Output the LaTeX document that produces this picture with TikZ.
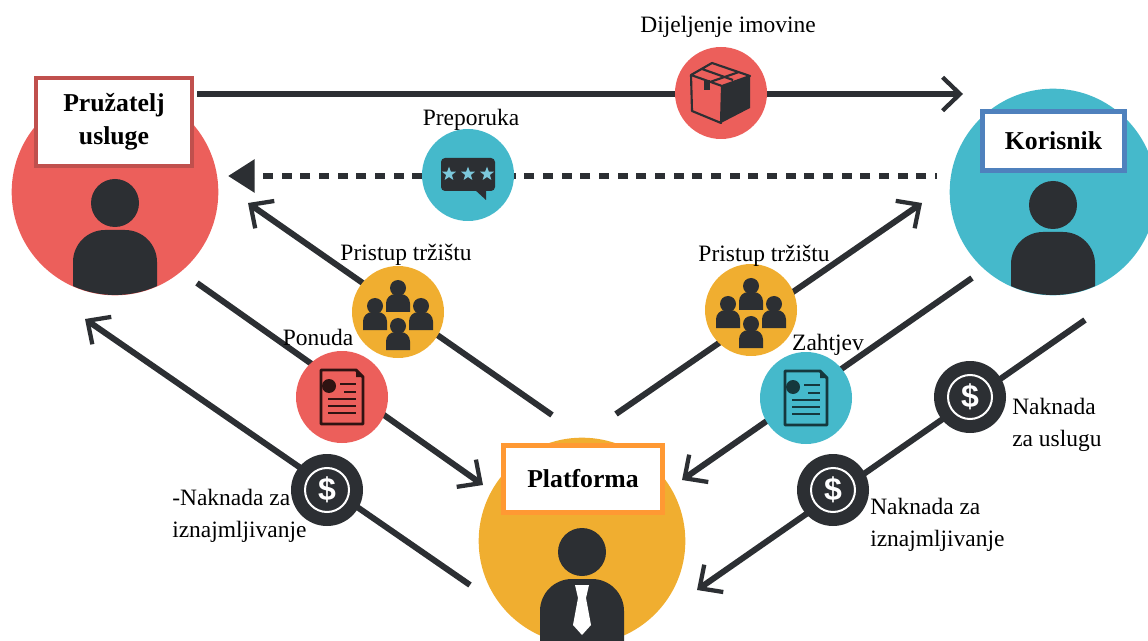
\documentclass[tikz,border=0pt]{standalone}
\usepackage{fontspec}
\setmainfont{Liberation Serif}
\newfontfamily\signfont{Liberation Sans}
\usetikzlibrary{arrows.meta,positioning,shapes.geometric}
\definecolor{redc}{HTML}{EC5F5B}
\definecolor{tealc}{HTML}{45B9CB}
\definecolor{yellowc}{HTML}{F0AE30}
\definecolor{darkc}{HTML}{2C2F33}
\definecolor{starc}{HTML}{7CC8DC}
\definecolor{boxred}{HTML}{C0504D}
\definecolor{boxblue}{HTML}{4F81BD}
\definecolor{boxorange}{HTML}{FF9933}
\begin{document}
\begin{tikzpicture}[x=0.75pt,y=-0.75pt,>={Straight Barb[length=13pt,width=25pt,line width=3.2pt]},
		bigdisc/.style={circle,minimum size=155pt,inner sep=0pt},
		hub/.style={circle,minimum size=69pt,inner sep=0pt},
		coin/.style={circle,fill=darkc,text=white,minimum size=54pt,inner sep=0pt,font=\signfont\bfseries\fontsize{24}{24}\selectfont},
		namebox/.style={rectangle,fill=white,line width=3.6pt,inner sep=0pt,align=center,font=\bfseries\fontsize{19.3}{25}\selectfont},
		lbl/.style={inner sep=0pt,align=left,font=\fontsize{17.6}{24.5}\selectfont},
		link/.style={draw=darkc,line width=4.5pt},
		person/.pic={
			\fill[darkc] (0,0) circle (24);
			\fill[darkc,rounded corners=24pt] (-42,105) -- (-42,27) -- (42,27) -- (42,105);
		},
		minime/.pic={
			\fill[darkc] (0,-10) circle (8);
			\fill[darkc,rounded corners=7pt] (-12,14) -- (-12,-4) -- (12,-4) -- (12,14);
		},
		docicon/.pic={
			\draw[#1,line width=2.2pt,line join=round] (-21,-27) -- (14,-27) -- (21,-20) -- (21,27) -- (-21,27) -- cycle;
			\fill[#1] (-13,-11) circle (7);
			\fill[#1] (14,-27) -- (21,-20) -- (14,-20) -- cycle;
			\draw[#1,line width=2pt] (-2,-13) -- (14,-13) (2,-5) -- (14,-5)
				(-14,2) -- (14,2) (-14,9) -- (14,9) (-14,16) -- (14,16);
		}]
	\useasboundingbox (0,0) rectangle (1148,641);
	% big circles
	\node[bigdisc,fill=redc]    (provider) at (115,192) {};
	\node[bigdisc,fill=tealc]   (user)     at (1053,192) {};
	\node[bigdisc,fill=yellowc] (platform) at (582,541) {};
	\begin{scope}
		\clip (115,192) circle (103);
		\pic at (115,203) {person};
	\end{scope}
	\begin{scope}
		\clip (1053,192) circle (103);
		\pic at (1053,205) {person};
	\end{scope}
	\pic at (582,552) {person};
	\fill[white] (575,585) -- (589,585) -- (586,598) -- (591,625) -- (582,635) -- (573,625) -- (578,598) -- cycle;
	% name boxes
	\node[namebox,draw=boxred,minimum width=117pt,minimum height=66pt] (providerbox) at (114,122) {Pružatelj\\usluge};
	\node[namebox,draw=boxblue,minimum width=106pt,minimum height=44pt] (userbox) at (1053.5,141) {Korisnik};
	\node[namebox,draw=boxorange,minimum width=119pt,minimum height=50pt] (platformbox) at (583,479) {Platforma};
	% lines, the circles go on top of them
	\coordinate (shareA)   at (197,94);
	\coordinate (shareB)   at (963,94);
	\coordinate (reviewA)  at (937,176);
	\coordinate (reviewB)  at (228,176);
	\coordinate (marketlA) at (552,415);
	\coordinate (marketlB) at (248,203);
	\coordinate (marketrA) at (616,414);
	\coordinate (marketrB) at (922,203);
	\coordinate (offerA)   at (197,283);
	\coordinate (offerB)   at (483,485);
	\coordinate (requestA) at (972,278);
	\coordinate (requestB) at (682,480);
	\coordinate (feelA)    at (470,585);
	\coordinate (feelB)    at (85,319);
	\coordinate (feesA)    at (1085,320);
	\coordinate (feerB)    at (697,590);
	\path[link]
		(shareA) edge[->] (shareB)
		(marketlA) edge[->] (marketlB)
		(marketrA) edge[->] (marketrB)
		(offerA) edge[->] (offerB)
		(requestA) edge[->] (requestB)
		(feelA) edge[->] (feelB)
		(feesA) edge[->] (feerB);
	\draw[link,dash pattern=on 7.5pt off 6.5pt,dash phase=6pt,-{Triangle[length=20pt,width=24pt]}] (reviewA) -- (reviewB);
	% circles on the lines
	\node[hub,fill=redc]    (share)   at (721,93) {};
	\node[hub,fill=tealc]   (review)  at (468,175) {};
	\node[hub,fill=yellowc] (marketl) at (398,312) {};
	\node[hub,fill=yellowc] (marketr) at (751,310) {};
	\node[hub,fill=redc]    (offer)   at (342,397) {};
	\node[hub,fill=tealc]   (request) at (806,398) {};
	\node[coin] (feel) at (327,490) {\$};
	\node[coin] (feer) at (833,490) {\$};
	\node[coin] (fees) at (970,397) {\$};
	\foreach \c in {feel,feer,fees}
		\draw[white,line width=1.5pt] (\c.center) circle (22);
	% box icon
	\begin{scope}[shift={(721,93)}]
		\fill[darkc] (1,-7) -- (29,-17) -- (29,15) -- (0,30) -- cycle;
		\draw[darkc,line width=1.6pt,line join=round] (-30,-18) -- (1,-7) -- (0,30) -- (-29,18) -- cycle
			(-30,-18) -- (-9,-30) -- (29,-17) -- (1,-7)
			(-19,-24) -- (12,-13) (-11,-11) -- (18,-21);
		\fill[darkc] (-17,-13) rectangle (-11,-3);
	\end{scope}
	% bubble icon
	\begin{scope}[shift={(468,175)}]
		\fill[darkc,rounded corners=3pt] (-27,-17) rectangle (27,16);
		\fill[darkc] (6,14) -- (18,25) -- (18,14) -- cycle;
		\foreach \s in {-19,0,19}
			\node[star,star points=5,star point ratio=2.4,fill=starc,inner sep=0pt,minimum size=11pt] at (\s,-1) {};
	\end{scope}
	% people and document icons
	\foreach \m in {(398,312),(751,310)}
		\foreach \dx/\dy in {0/-14,-23/4,23/4,0/24}
			\pic[shift={(\dx,\dy)}] at \m {minime};
	\pic at (342,397) {docicon={black!80!redc}};
	\pic at (806,398) {docicon={black!70!tealc}};
	% labels
	\node[lbl] (sharetxt)   at (728,27)  {Dijeljenje imovine};
	\node[lbl] (reviewtxt)  at (471,120) {Preporuka};
	\node[lbl] (marketltxt) at (406,255) {Pristup tržištu};
	\node[lbl] (marketrtxt) at (764,256) {Pristup tržištu};
	\node[lbl] (offertxt)   at (318,337) {Ponuda};
	\node[lbl] (requesttxt) at (828,345) {Zahtjev};
	\node[lbl,anchor=west] (feeltxt) at (172,516) {-Naknada za\\iznajmljivanje};
	\node[lbl,anchor=west] (feertxt) at (870,525) {Naknada za\\iznajmljivanje};
	\node[lbl,anchor=west] (feestxt) at (1012,425) {Naknada\\za uslugu};
\end{tikzpicture}
\end{document}
